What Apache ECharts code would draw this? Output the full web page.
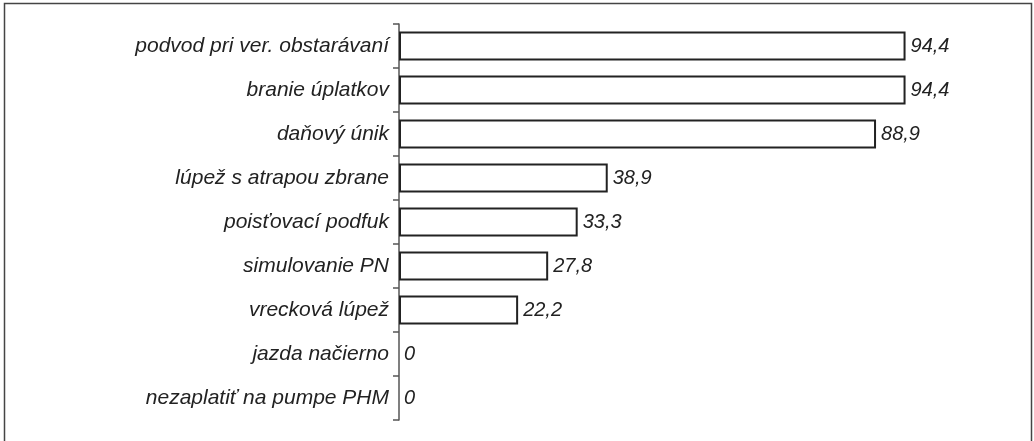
<!DOCTYPE html>
<html>
<head>
<meta charset="utf-8">
<script src="https://cdn.jsdelivr.net/npm/echarts@6/dist/echarts.min.js"></script>
<style>
html, body { margin: 0; padding: 0; background: #fff; }
#chart { width: 1034px; height: 441px; }
</style>
</head>
<body>
<div id="chart"></div>
<script>
// kategórie (zhora nadol)
var categories = [
	'podvod pri ver. obstarávaní',
	'branie úplatkov',
	'daňový únik',
	'lúpež s atrapou zbrane',
	'poisťovací podfuk',
	'simulovanie PN',
	'vrecková lúpež',
	'jazda načierno',
	'nezaplatiť na pumpe PHM'
];
// hodnoty v %
var values = [94.4, 94.4, 88.9, 38.9, 33.3, 27.8, 22.2, 0, 0];

var myChart = echarts.init(document.getElementById('chart'));

// nulové hodnoty bez orámovania
var barData = [];
for (var i = 0; i < values.length; i++) {
	if (values[i] === 0) {
		barData.push({ value : values[i], itemStyle : { borderWidth : 0 } });
	} else {
		barData.push(values[i]);
	}
}

var option = {
	animation : false,
	backgroundColor : '#fff',
	graphic : [ {
		type : 'rect',
		shape : { x : 4.5, y : 3.5, width : 1027, height : 450 },
		style : { fill : 'none', stroke : '#444', lineWidth : 1.5 },
		silent : true
	} ],
	grid : {
		left : 399,
		top : 24,
		width : 536.6,
		height : 396
	},
	xAxis : {
		type : 'value',
		min : 0,
		max : 100,
		show : false
	},
	yAxis : {
		type : 'category',
		inverse : true,
		data : categories,
		axisLine : {
			show : true,
			lineStyle : { color : '#555', width : 1.5 }
		},
		axisTick : {
			show : true,
			inside : false,
			alignWithLabel : false,
			interval : 0,
			length : 6,
			lineStyle : { color : '#555', width : 1.5 }
		},
		axisLabel : {
			margin : 10,
			fontFamily : 'Liberation Sans, Arial, sans-serif',
			fontStyle : 'italic',
			fontSize : 21,
			color : '#222'
		}
	},
	series : [ {
		type : 'bar',
		data : barData,
		barCategoryGap : '34%',
		itemStyle : {
			color : '#fff',
			borderColor : '#222',
			borderWidth : 2
		},
		label : {
			show : true,
			position : 'right',
			distance : 5,
			fontFamily : 'Liberation Sans, Arial, sans-serif',
			fontStyle : 'italic',
			fontSize : 20,
			color : '#222',
			formatter : function(p) {
				return String(p.value).replace('.', ',');
			}
		}
	} ]
};

myChart.setOption(option);
</script>
</body>
</html>
